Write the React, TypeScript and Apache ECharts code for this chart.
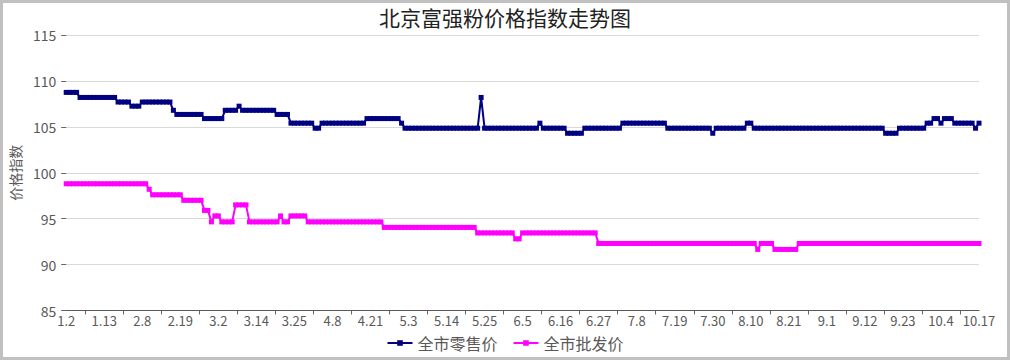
import React, { useEffect, useRef } from "react";
import * as echarts from "echarts";

// Tick-label dates (every 11th observation), year 2023
const labelDates: string[] = [
  "1.2", "1.13", "2.8", "2.19", "3.2", "3.14", "3.25", "4.8", "4.21", "5.3",
  "5.14", "5.25", "6.5", "6.16", "6.27", "7.8", "7.19", "7.30", "8.10", "8.21",
  "9.1", "9.12", "9.23", "10.4", "10.17",
];
const pointsPerLabel = 11;

// Series values, as [value, number of consecutive points]
const retailRuns: Array<[number, number]> = [
  [108.75, 4], [108.2, 11], [107.7, 4], [107.25, 3], [107.7, 9], [106.8, 1],
  [106.35, 8], [105.9, 6], [106.8, 4], [107.25, 1], [106.8, 10], [106.35, 4],
  [105.4, 7], [104.85, 2], [105.4, 13], [105.9, 10], [105.4, 1], [104.85, 22],
  [108.2, 1], [104.85, 16], [105.4, 1], [104.85, 7], [104.3, 5], [104.85, 11],
  [105.4, 13], [104.85, 13], [104.3, 1], [104.85, 9], [105.4, 2], [104.85, 38],
  [104.3, 4], [104.85, 8], [105.4, 2], [105.9, 2], [105.4, 1], [105.9, 3],
  [105.4, 6], [104.85, 1], [105.4, 1],
];
const wholesaleRuns: Array<[number, number]> = [
  [98.8, 24], [98.2, 1], [97.6, 9], [97.0, 6], [95.9, 2], [94.65, 1], [95.3, 2],
  [94.65, 4], [96.5, 4], [94.65, 9], [95.3, 1], [94.65, 2], [95.3, 5], [94.65, 22],
  [94.05, 27], [93.45, 11], [92.8, 2], [93.45, 22], [92.3, 46], [91.65, 1],
  [92.3, 4], [91.65, 7], [92.3, 53],
];

const seriesNames = ["全市零售价", "全市批发价"];
const titleText = "北京富强粉价格指数走势图";
const yAxisName = "价格指数";

function expandRuns(runs: Array<[number, number]>): number[] {
  const out: number[] = [];
  runs.forEach(([v, n]) => {
    for (let i = 0; i < n; i++) out.push(v);
  });
  return out;
}

function buildCategories(): string[] {
  const cats: string[] = [];
  for (let k = 0; k < labelDates.length - 1; k++) {
    const [m, d] = labelDates[k].split(".").map(Number);
    for (let j = 0; j < pointsPerLabel; j++) {
      const dt = new Date(2023, m - 1, d + j);
      cats.push(j === 0 ? labelDates[k] : `${dt.getMonth() + 1}.${dt.getDate()}`);
    }
  }
  cats.push(labelDates[labelDates.length - 1]);
  return cats;
}

const categories = buildCategories();
const retail = expandRuns(retailRuns);
const wholesale = expandRuns(wholesaleRuns);

const FONT = "'Noto Sans CJK SC', 'Noto Sans', sans-serif";

export default function App() {
  const ref = useRef<HTMLDivElement>(null);

  useEffect(() => {
    if (!ref.current) return;
    const chart = echarts.init(ref.current, undefined, { renderer: "svg" });
    const n = categories.length - 1;
    chart.setOption({
      animation: false,
      backgroundColor: "#ffffff",
      textStyle: { fontFamily: FONT },
      title: {
        text: titleText,
        left: "center",
        top: 1,
        textStyle: { fontSize: 21, fontWeight: "normal", color: "#222222", fontFamily: FONT },
      },
      legend: {
        bottom: 4,
        left: "center",
        itemWidth: 25,
        itemHeight: 7,
        itemGap: 15,
        textStyle: { fontSize: 16, color: "#595959", fontFamily: FONT },
        data: seriesNames,
      },
      grid: { left: 61, right: 31, top: 35, bottom: 49.5 },
      xAxis: [
        {
          type: "category",
          data: categories,
          boundaryGap: false,
          axisLine: { show: true, lineStyle: { color: "#595959", width: 1 } },
          axisTick: { show: false },
          axisLabel: {
            interval: pointsPerLabel - 1,
            margin: 3,
            fontSize: 13,
            color: "#595959",
            fontFamily: FONT,
          },
          splitLine: { show: false },
        },
        {
          type: "value",
          position: "bottom",
          min: 0,
          max: n,
          interval: pointsPerLabel,
          axisLine: { show: false },
          axisTick: { show: false },
          axisLabel: { show: false },
          splitLine: { show: false },
          minorTick: { show: true, splitNumber: 2, length: 4, lineStyle: { color: "#666666", width: 1 } },
          minorSplitLine: { show: false },
        },
      ],
      yAxis: {
        type: "value",
        min: 85,
        max: 115,
        interval: 5,
        offset: 3,
        name: yAxisName,
        nameLocation: "middle",
        nameRotate: 90,
        nameGap: 34,
        nameTextStyle: { fontSize: 14, color: "#595959", fontFamily: FONT },
        axisLine: { show: false },
        axisTick: { show: true, length: 5, lineStyle: { color: "#666666" } },
        axisLabel: { fontSize: 14, color: "#595959", margin: 7, fontFamily: FONT },
        splitLine: { show: true, lineStyle: { color: "#d9d9d9", width: 1 } },
      },
      series: [
        {
          name: seriesNames[0],
          type: "line",
          xAxisIndex: 0,
          data: retail,
          symbol: "rect",
          symbolSize: 5,
          showAllSymbol: true,
          lineStyle: { color: "#000080", width: 2 },
          itemStyle: { color: "#000080" },
          emphasis: { disabled: true },
        },
        {
          name: seriesNames[1],
          type: "line",
          xAxisIndex: 0,
          data: wholesale,
          symbol: "rect",
          symbolSize: 5,
          showAllSymbol: true,
          lineStyle: { color: "#ff00ff", width: 2 },
          itemStyle: { color: "#ff00ff" },
          emphasis: { disabled: true },
        },
      ],
      graphic: [
        {
          type: "rect",
          silent: true,
          shape: { x: 1.5, y: 1.5, width: 1007, height: 357 },
          style: { fill: "none", stroke: "#c0c0c0", lineWidth: 3 },
        },
      ],
    });
    return () => chart.dispose();
  }, []);

  return (
    <div
      ref={ref}
      style={{ position: "fixed", left: 0, top: 0, width: 1010, height: 360, background: "#fff" }}
    />
  );
}
